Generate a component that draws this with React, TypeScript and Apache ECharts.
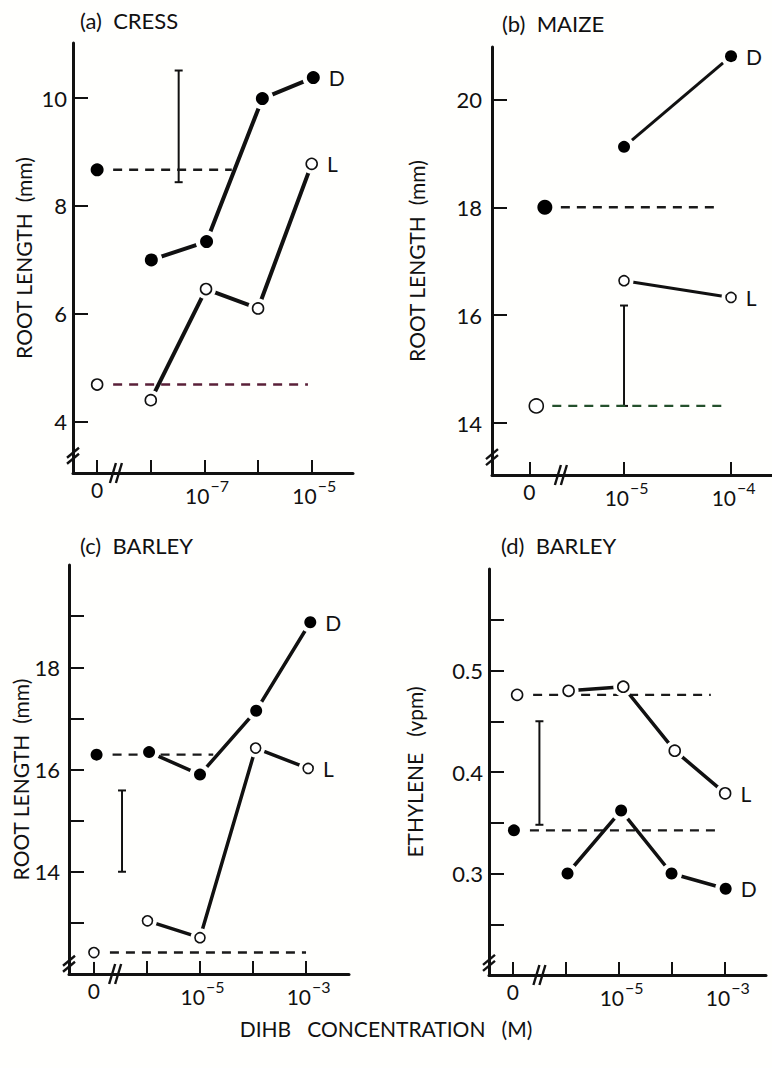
import React, { useEffect, useRef } from "react";
import * as echarts from "echarts";

const FONT = "Lato, 'Open Sans', 'DejaVu Sans', sans-serif";
const INK = "#111111";
const BG = "#fffffd";

// ---------- (a) CRESS ----------
const cressTitle = "(a)  CRESS";
const cressXD = [-7.99, -6.96, -5.92, -4.97];
const cressD = [7.0, 7.34, 9.99, 10.38];
const cressXL = [-8.0, -6.97, -6.0, -5.0];
const cressL = [4.4, 6.46, 6.1, 8.78];
const cressCtrlX = [-9, -9]; // D, L controls (0 M)
const cressCtrl = [8.67, 4.69];
const cressCtrlEnd = [-6.49, -5.07];
const cressErr = [-7.48, 8.44, 10.51];
const cressXTicks = [-9, -8, -7, -6, -5];
const cressXLabelPos = [-9, -7, -5];
const cressXLabels = ["0", "10^−7", "10^−5"];
const cressYTicks = [4, 6, 8, 10];

// ---------- (b) MAIZE ----------
const maizeTitle = "(b)  MAIZE";
const maizeXD = [-5.0, -4.0];
const maizeD = [19.12, 20.8];
const maizeXL = [-5.0, -4.0];
const maizeL = [16.64, 16.33];
const maizeCtrlX = [-5.74, -5.82];
const maizeCtrl = [18.0, 14.32];
const maizeCtrlEnd = [-4.14, -4.04];
const maizeErr = [-5.0, 14.32, 16.18];
const maizeXTicks = [-5.885, -5, -4];
const maizeXLabelPos = [-5.885, -5, -4];
const maizeXLabels = ["0", "10^−5", "10^−4"];
const maizeYTicks = [14, 16, 18, 20];

// ---------- (c) BARLEY root length ----------
const barleyTitle = "(c)  BARLEY";
const barleyXD = [-5.96, -5.0, -3.94, -2.92];
const barleyD = [16.34, 15.9, 17.15, 18.88];
const barleyXL = [-5.99, -5.0, -3.95, -2.96];
const barleyL = [13.04, 12.71, 16.42, 16.02];
const barleyCtrlX = [-6.95, -7.0];
const barleyCtrl = [16.29, 12.42];
const barleyCtrlEnd = [-4.75, -3.0];
const barleyErr = [-6.47, 14.0, 15.59];
const barleyXTicks = [-7, -6, -5, -4, -3];
const barleyXLabelPos = [-7, -5, -3];
const barleyXLabels = ["0", "10^−5", "10^−3"];
const barleyYTicks = [13, 14, 15, 16, 17, 18, 19];
const barleyYLabels = [14, 16, 18];

// ---------- (d) BARLEY ethylene ----------
const ethTitle = "(d)  BARLEY";
const ethXD = [-5.97, -4.96, -4.01, -2.99];
const ethD = [0.3, 0.362, 0.3, 0.285];
const ethXL = [-5.95, -4.92, -3.95, -3.0];
const ethL = [0.48, 0.484, 0.421, 0.379];
const ethCtrlX = [-6.98, -6.92];
const ethCtrl = [0.3425, 0.476];
const ethCtrlEnd = [-3.14, -3.27];
const ethErr = [-6.5, 0.348, 0.45];
const ethXTicks = [-7, -6, -5, -4, -3];
const ethXLabelPos = [-7, -5, -3];
const ethXLabels = ["0", "10^−5", "10^−3"];
const ethYTicks = [0.25, 0.3, 0.35, 0.4, 0.45, 0.5, 0.55];
const ethYLabels = [0.3, 0.4, 0.5];

const xTitle = "DIHB   CONCENTRATION   (M)";

type Panel = {
  title: string; titlePos: [number, number];
  grid: { left: number; top: number; width: number; height: number };
  xMin: number; xMax: number; yMin: number; yMax: number;
  xTicks: number[]; xLabelPos: number[]; xLabels: string[];
  yTicks: number[]; yLabels: number[]; yDec: number;
  yName: string; nameGap: number; namePad: number[]; labelMargin: number;
  xD: number[]; D: number[]; xL: number[]; L: number[];
  ctrlX: number[]; ctrl: number[]; ctrlEnd: number[]; ctrlSize: number[];
  dashColor: string[]; err: number[]; breaks: number[][];
  lw: number; sizeD: number; sizeL: number;
};

const panels: Panel[] = [
  {
    title: cressTitle, titlePos: [80, 9],
    grid: { left: 73, top: 43, width: 280, height: 430 },
    xMin: -9.45, xMax: -4.23, yMin: 3.05, yMax: 11.02,
    xTicks: cressXTicks, xLabelPos: cressXLabelPos, xLabels: cressXLabels,
    yTicks: cressYTicks, yLabels: cressYTicks, yDec: 0,
    yName: "ROOT LENGTH  (mm)", nameGap: 39, namePad: [0, 0, 0, 0], labelMargin: 6,
    xD: cressXD, D: cressD, xL: cressXL, L: cressL,
    ctrlX: cressCtrlX, ctrl: cressCtrl, ctrlEnd: cressCtrlEnd, ctrlSize: [13, 11],
    dashColor: ["#1a1a1a", "#5a2038"], err: cressErr,
    breaks: [[-8.65, 3.05, 0], [-9.45, 3.37, 1]],
    lw: 4, sizeD: 13, sizeL: 11,
  },
  {
    title: maizeTitle, titlePos: [502, 12],
    grid: { left: 492, top: 47, width: 280, height: 428 },
    xMin: -6.234, xMax: -3.617, yMin: 13.04, yMax: 20.97,
    xTicks: maizeXTicks, xLabelPos: maizeXLabelPos, xLabels: maizeXLabels,
    yTicks: maizeYTicks, yLabels: maizeYTicks, yDec: 0,
    yName: "ROOT LENGTH  (mm)", nameGap: 65, namePad: [0, 0, 0, 0], labelMargin: 10,
    xD: maizeXD, D: maizeD, xL: maizeXL, L: maizeL,
    ctrlX: maizeCtrlX, ctrl: maizeCtrl, ctrlEnd: maizeCtrlEnd, ctrlSize: [15, 14],
    dashColor: ["#1a1a1a", "#24502c"], err: maizeErr,
    breaks: [[-5.59, 13.04, 0], [-6.234, 13.37, 1]],
    lw: 3, sizeD: 12, sizeL: 10,
  },
  {
    title: barleyTitle, titlePos: [80, 534],
    grid: { left: 69, top: 565, width: 280, height: 409 },
    xMin: -7.47, xMax: -2.19, yMin: 12, yMax: 20,
    xTicks: barleyXTicks, xLabelPos: barleyXLabelPos, xLabels: barleyXLabels,
    yTicks: barleyYTicks, yLabels: barleyYLabels, yDec: 0,
    yName: "ROOT LENGTH  (mm)", nameGap: 35, namePad: [0, 20, 0, 0], labelMargin: 9,
    xD: barleyXD, D: barleyD, xL: barleyXL, L: barleyL,
    ctrlX: barleyCtrlX, ctrl: barleyCtrl, ctrlEnd: barleyCtrlEnd, ctrlSize: [12, 10],
    dashColor: ["#1a1a1a", "#1a1a1a"], err: barleyErr,
    breaks: [[-6.6, 12, 0], [-7.47, 12.2, 1]],
    lw: 3.5, sizeD: 12, sizeL: 10,
  },
  {
    title: ethTitle, titlePos: [501, 534],
    grid: { left: 489, top: 569, width: 277, height: 406 },
    xMin: -7.45, xMax: -2.23, yMin: 0.2, yMax: 0.6,
    xTicks: ethXTicks, xLabelPos: ethXLabelPos, xLabels: ethXLabels,
    yTicks: ethYTicks, yLabels: ethYLabels, yDec: 1,
    yName: "ETHYLENE   (vpm)", nameGap: 64, namePad: [0, 0, 0, 0], labelMargin: 6,
    xD: ethXD, D: ethD, xL: ethXL, L: ethL,
    ctrlX: ethCtrlX, ctrl: ethCtrl, ctrlEnd: ethCtrlEnd, ctrlSize: [12, 11],
    dashColor: ["#1a1a1a", "#1a1a1a"], err: ethErr,
    breaks: [[-6.5, 0.2, 0], [-7.45, 0.212, 1]],
    lw: 3.5, sizeD: 12, sizeL: 11,
  },
];

function panelSeries(p: Panel, i: number): any[] {
  const ax = { xAxisIndex: i, yAxisIndex: i };
  const out: any[] = [];
  for (const k of [0, 1]) {
    out.push({
      type: "line", ...ax, silent: true, symbol: "none", z: 2,
      data: [[p.ctrlX[k], p.ctrl[k]], [p.ctrlEnd[k], p.ctrl[k]]],
      lineStyle: { color: p.dashColor[k], width: 2.4, type: [9, 7] },
    });
  }
  out.push({
    type: "line", ...ax, silent: true, symbol: "none", z: 2,
    data: p.xD.map((x, j) => [x, p.D[j]]),
    lineStyle: { color: INK, width: p.lw },
  });
  out.push({
    type: "line", ...ax, silent: true, symbol: "none", z: 2,
    data: p.xL.map((x, j) => [x, p.L[j]]),
    lineStyle: { color: INK, width: p.lw },
  });
  // error bar
  out.push({
    type: "custom", ...ax, silent: true, z: 2,
    encode: { x: 0, y: 1 },
    data: [p.err],
    renderItem: (_params: any, api: any) => {
      const x = api.value(0), lo = api.value(1), hi = api.value(2);
      const a = api.coord([x, hi]);
      const b = api.coord([x, lo]);
      const st = { stroke: INK, lineWidth: 2 };
      return {
        type: "group",
        children: [
          { type: "line", shape: { x1: a[0], y1: a[1], x2: b[0], y2: b[1] }, style: st },
          { type: "line", shape: { x1: a[0] - 4, y1: a[1], x2: a[0] + 4, y2: a[1] }, style: st },
          { type: "line", shape: { x1: b[0] - 4, y1: b[1], x2: b[0] + 4, y2: b[1] }, style: st },
        ],
      };
    },
  });
  // axis breaks
  out.push({
    type: "custom", ...ax, silent: true, z: 5,
    encode: { x: 0, y: 1 },
    data: p.breaks,
    renderItem: (_params: any, api: any) => {
      const c = api.coord([api.value(0), api.value(1)]);
      const kind = api.value(2);
      const st = { stroke: INK, lineWidth: 2.4 };
      const kids: any[] = [];
      if (kind === 0) {
        for (const dx of [-3, 3]) {
          kids.push({ type: "line", shape: { x1: c[0] + dx - 3, y1: c[1] + 10, x2: c[0] + dx + 3, y2: c[1] - 10 }, style: st });
        }
      } else {
        for (const dy of [-3, 3]) {
          kids.push({ type: "line", shape: { x1: c[0] - 6, y1: c[1] + dy + 5, x2: c[0] + 6, y2: c[1] + dy - 5 }, style: st });
        }
      }
      return { type: "group", children: kids };
    },
  });
  // x tick labels (with superscript exponents)
  out.push({
    type: "custom", ...ax, silent: true, z: 5,
    encode: { x: 0, y: 1 },
    data: p.xLabelPos.map((x, k) => [x, p.yMin, k]),
    renderItem: (_params: any, api: any) => {
      const c = api.coord([api.value(0), api.value(1)]);
      const [base, exp] = p.xLabels[api.value(2)].split("^");
      if (!exp) {
        return {
          type: "text", x: c[0], y: c[1] + 16,
          style: { text: base, fill: INK, font: `21px ${FONT}`, align: "center", verticalAlign: "middle" },
        };
      }
      return {
        type: "group",
        children: [
          { type: "text", x: c[0] + 5, y: c[1] + 22, style: { text: base, fill: INK, font: `21px ${FONT}`, align: "right", verticalAlign: "middle" } },
          { type: "text", x: c[0] + 6, y: c[1] + 12, style: { text: exp, fill: INK, font: `16px ${FONT}`, align: "left", verticalAlign: "middle" } },
        ],
      };
    },
  });
  const dPts = [
    { x: p.ctrlX[0], y: p.ctrl[0], s: p.ctrlSize[0] },
    ...p.xD.map((x, j) => ({ x, y: p.D[j], s: p.sizeD })),
  ];
  const lPts = [
    { x: p.ctrlX[1], y: p.ctrl[1], s: p.ctrlSize[1] },
    ...p.xL.map((x, j) => ({ x, y: p.L[j], s: p.sizeL })),
  ];
  out.push({
    type: "scatter", ...ax, silent: true, z: 3,
    data: [...dPts, ...lPts].map((q) => ({ value: [q.x, q.y], symbolSize: q.s + 9 })),
    itemStyle: { color: BG, opacity: 1 },
  });
  const lab = (t: string) => ({
    show: true, formatter: t, position: "right", distance: 9,
    fontSize: 21, color: INK, fontFamily: FONT,
  });
  out.push({
    type: "scatter", ...ax, silent: true, z: 4,
    data: dPts.map((q, j) => ({
      value: [q.x, q.y], symbolSize: q.s,
      ...(j === dPts.length - 1 ? { label: lab("D") } : {}),
    })),
    itemStyle: { color: "#000000", opacity: 1 },
  });
  out.push({
    type: "scatter", ...ax, silent: true, z: 4,
    data: lPts.map((q, j) => ({
      value: [q.x, q.y], symbolSize: q.s,
      ...(j === lPts.length - 1 ? { label: lab("L") } : {}),
    })),
    itemStyle: { color: "#ffffff", borderColor: INK, borderWidth: 1.6, opacity: 1 },
  });
  return out;
}

export default function App() {
  const ref = useRef<HTMLDivElement>(null);
  useEffect(() => {
    document.body.style.margin = "0";
    document.body.style.background = BG;
    const chart = echarts.init(ref.current!, undefined, { renderer: "svg" });
    const axisLine = { show: true, onZero: false, lineStyle: { color: INK, width: 3 } };
    const option: any = {
      animation: false,
      backgroundColor: BG,
      title: [
        ...panels.map((p) => ({
          text: p.title, left: p.titlePos[0], top: p.titlePos[1], padding: 0,
          textStyle: { fontSize: 22, fontWeight: "normal", fontFamily: FONT, color: INK },
        })),
        {
          text: xTitle, left: "center", top: 1018, padding: 0,
          textStyle: { fontSize: 21, fontWeight: "normal", fontFamily: FONT, color: INK },
        },
      ],
      grid: panels.map((p) => ({ ...p.grid, containLabel: false })),
      xAxis: panels.map((p, i) => ({
        type: "value", gridIndex: i, min: p.xMin, max: p.xMax,
        axisLine, splitLine: { show: false },
        axisTick: { show: true, inside: true, length: 13, customValues: p.xTicks, lineStyle: { color: INK, width: 2 } },
        axisLabel: { show: false },
      })),
      yAxis: panels.map((p, i) => ({
        type: "value", gridIndex: i, min: p.yMin, max: p.yMax,
        axisLine, splitLine: { show: false },
        axisTick: { show: true, inside: true, length: 15, customValues: p.yTicks, lineStyle: { color: INK, width: 2 } },
        axisLabel: {
          show: true, customValues: p.yLabels, margin: p.labelMargin,
          fontSize: 22, fontFamily: FONT, color: INK,
          formatter: (v: number) => v.toFixed(p.yDec),
        },
        name: p.yName, nameLocation: "middle", nameRotate: 90, nameGap: p.nameGap,
        nameTextStyle: { fontSize: 21, fontFamily: FONT, color: INK, padding: p.namePad },
      })),
      series: panels.flatMap((p, i) => panelSeries(p, i)),
    };
    chart.setOption(option);
    return () => chart.dispose();
  }, []);
  return <div ref={ref} style={{ width: 772, height: 1068 }} />;
}
